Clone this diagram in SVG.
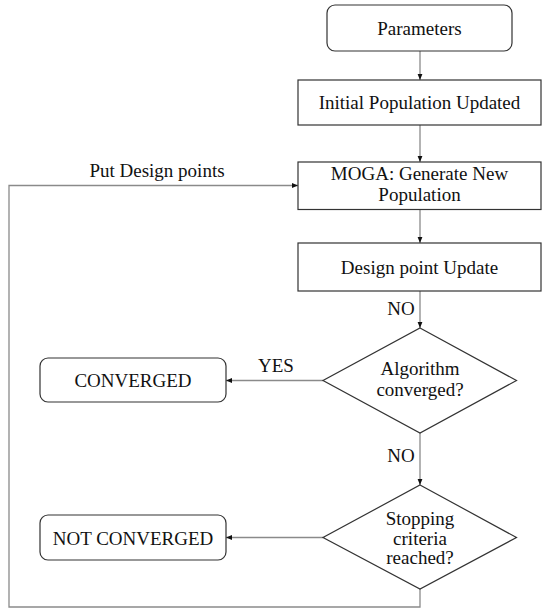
<svg xmlns="http://www.w3.org/2000/svg" width="550" height="615" viewBox="0 0 550 615">
<defs>
<style>
.box{fill:#fff;stroke:#333;stroke-width:1.2}
.t{font-family:"Liberation Serif","Times New Roman",serif;font-size:19px;fill:#111;text-anchor:middle}
.c{fill:none;stroke:#8a8a8a;stroke-width:1.3}
</style>
<marker id="ah" viewBox="0 0 10 10" refX="10" refY="5" markerWidth="6" markerHeight="6" markerUnits="userSpaceOnUse" orient="auto">
<path d="M0,1 L10,5 L0,9 z" fill="#111"/>
</marker>
</defs>
<rect width="550" height="615" fill="#fff"/>
<g id="connectors">
<line class="c" x1="420" y1="51" x2="420" y2="80" marker-end="url(#ah)"/>
<line class="c" x1="420" y1="125" x2="420" y2="162" marker-end="url(#ah)"/>
<line class="c" x1="420" y1="209.5" x2="420" y2="243" marker-end="url(#ah)"/>
<line class="c" x1="420" y1="291" x2="420" y2="328" marker-end="url(#ah)"/>
<line class="c" x1="420" y1="433" x2="420" y2="485" marker-end="url(#ah)"/>
<line class="c" x1="323" y1="380.5" x2="226" y2="380.5" marker-end="url(#ah)"/>
<line class="c" x1="323" y1="537.5" x2="226" y2="537.5" marker-end="url(#ah)"/>
<polyline class="c" points="420,589 420,607 9,607 9,185.5 298,185.5" marker-end="url(#ah)"/>
<text class="t" x="401" y="315">NO</text>
<text class="t" x="401" y="462">NO</text>
<text class="t" x="276" y="371.5">YES</text>
<text class="t" x="157" y="177">Put Design points</text>
</g>
<g id="parameters">
<rect class="box" x="327" y="5" width="185" height="46" rx="8"/>
<text class="t" x="419.5" y="34.5">Parameters</text>
</g>
<g id="initial-population">
<rect class="box" x="298" y="80" width="243" height="45"/>
<text class="t" x="419.5" y="109">Initial Population Updated</text>
</g>
<g id="moga">
<rect class="box" x="298" y="162" width="243" height="47.5"/>
<text class="t" x="419.5" y="180">MOGA: Generate New</text>
<text class="t" x="419.5" y="201">Population</text>
</g>
<g id="design-point-update">
<rect class="box" x="298" y="243" width="243" height="48"/>
<text class="t" x="419.5" y="273.5">Design point Update</text>
</g>
<g id="algorithm-converged">
<polygon class="box" points="420,328 516.5,380.5 420,433 323,380.5"/>
<text class="t" x="420" y="375">Algorithm</text>
<text class="t" x="420" y="395.5">converged?</text>
</g>
<g id="converged">
<rect class="box" x="40" y="358" width="186" height="44" rx="8"/>
<text class="t" x="133" y="386.5">CONVERGED</text>
</g>
<g id="stopping-criteria">
<polygon class="box" points="420,485 516.5,537.5 420,589 323,537.5"/>
<text class="t" x="420" y="525">Stopping</text>
<text class="t" x="420" y="544.5">criteria</text>
<text class="t" x="420" y="564">reached?</text>
</g>
<g id="not-converged">
<rect class="box" x="40" y="515" width="186" height="45" rx="8"/>
<text class="t" x="133" y="544.5">NOT CONVERGED</text>
</g>
</svg>
